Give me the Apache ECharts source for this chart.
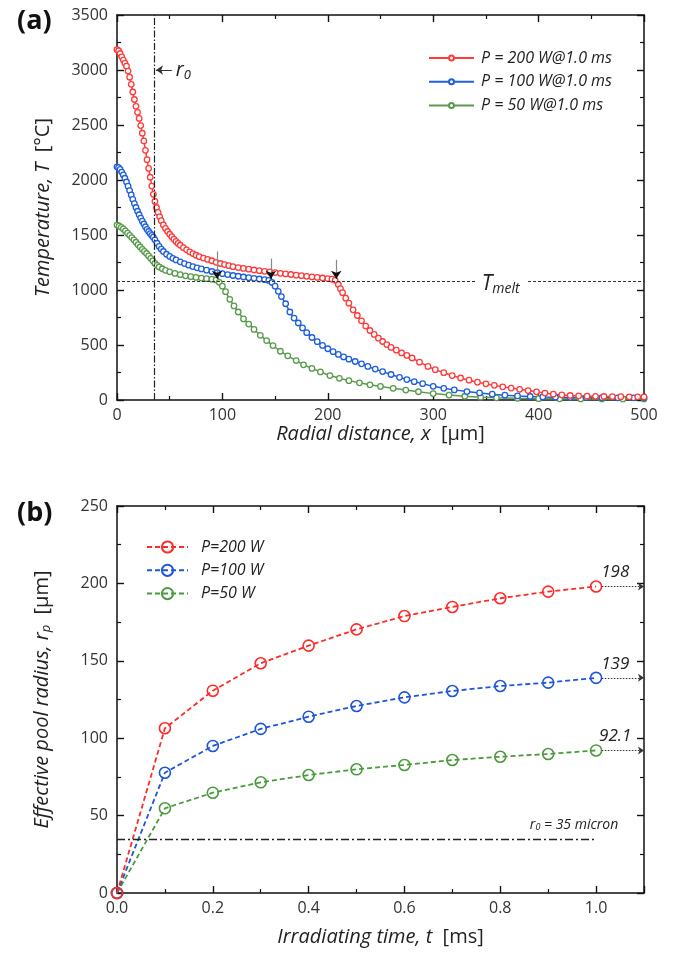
<!DOCTYPE html>
<html><head><meta charset="utf-8">
<script src="https://cdn.jsdelivr.net/npm/echarts@6/dist/echarts.min.js"></script>
<style>html,body{margin:0;padding:0;background:#fff}#c{width:682px;height:956px}</style>
</head><body><div id="c"></div>
<script>
const FONT = '"Open Sans", sans-serif';

// ---------- (a) Temperature vs radial distance ----------
const xTicksA = [0, 100, 200, 300, 400, 500];
const tTicksA = [0, 500, 1000, 1500, 2000, 2500, 3000, 3500];

const redX = [0,1.5,3,4.5,6,7.5,9,10.5,12,13.5,15,16.5,18,19.5,21,22.5,24,25.5,27,28.5,30,31.5,33,34.5,36,37.5,39,40.5,42,44,46,48,50,52,54,56,58,60,63,66,69,72,75,78,82,86,90,94,98,102,106,110,115,120,125,130,135,140,145,150,155,160,165,170,175,180,185,190,195,200,204,207,210,212,214,217,220,224,228,232,236,240,244,248,252,256,260,265,270,275,280,287,295,302,310,318,326,334,342,350,358,366,374,382,390,398,406,414,422,430,438,446,454,462,470,478,486,494,500];
const redT = [3185,3175,3150,3120,3090,3062,3035,2990,2935,2870,2800,2732,2670,2615,2560,2495,2425,2355,2270,2185,2105,2025,1945,1870,1805,1750,1705,1665,1630,1592,1560,1532,1507,1485,1462,1442,1423,1407,1385,1365,1347,1331,1316,1303,1290,1278,1266,1252,1241,1231,1221,1212,1204,1196,1189,1182,1176,1170,1164,1158,1152,1146,1141,1135,1130,1124,1119,1114,1109,1104,1098,1088,1050,1012,976,926,880,820,768,720,672,632,596,562,532,504,478,453,428,405,382,344,305,276,248,222,200,180,162,147,133,120,108,97,86,74,63,53,46,41,38,35,33,32,31,30,29,29,28];

const blueX = [0,1.5,3,4.5,6,7.5,9,10.5,12,13.5,15,16.5,18,19.5,21,22.5,24,25.5,27,28.5,30,31.5,33,34.5,36,38,40,42,44,47,50,53,56,60,64,68,72,76,80,85,90,95,100,105,110,115,120,125,130,135,140,144,147,150,153,156,160,164,168,172,176,180,185,190,195,200,205,210,215,220,226,232,238,245,252,260,268,275,282,290,300,310,320,332,344,356,368,380,392,404,416,430,445,460,475,490,500];
const blueT = [2120,2112,2096,2072,2046,2016,1982,1944,1904,1864,1824,1786,1750,1716,1684,1654,1626,1600,1575,1552,1532,1513,1496,1480,1456,1425,1396,1371,1350,1325,1305,1288,1273,1256,1240,1226,1213,1202,1192,1180,1168,1157,1148,1140,1132,1125,1118,1112,1106,1100,1094,1087,1068,1035,988,940,875,800,745,700,655,612,568,530,496,466,439,414,392,371,350,329,305,281,258,232,206,186,167,148,124,106,92,77,64,53,44,37,32,28,25,23,22,21,20,20,20];

const greenX = [0,2,4,6,8,10,12,14,16,18,20,22,24,26,28,30,32,34,36,38,40,43,46,50,55,60,65,70,75,80,85,90,94,97,100,103,107,111,115,120,125,130,136,142,148,155,162,170,177,185,193,202,211,220,230,240,250,262,274,286,300,315,330,345,360,380,400,420,440,460,480,500];
const greenT = [1590,1582,1570,1555,1537,1517,1497,1477,1456,1434,1412,1391,1370,1351,1332,1310,1288,1265,1242,1224,1209,1193,1179,1165,1151,1139,1129,1121,1114,1108,1103,1098,1092,1070,1035,985,915,855,800,737,690,642,588,540,495,443,402,358,320,287,255,222,197,176,156,138,123,106,90,75,58,45,34,26,20,15,12,11,10,10,10,10];

const r0 = 35;
const tMelt = 1080;
const meltArrowX = [95, 146, 208];
const meltArrowTop = [1350, 1285, 1275];

// ---------- (b) Effective pool radius vs time ----------
const timeMs = [0, 0.1, 0.2, 0.3, 0.4, 0.5, 0.6, 0.7, 0.8, 0.9, 1.0];
const rp200 = [0, 106.4, 130.7, 148.4, 159.8, 170.3, 178.9, 184.8, 190.4, 194.7, 198];
const rp100 = [0, 77.7, 95.0, 106.0, 113.9, 120.8, 126.4, 130.5, 133.7, 135.9, 139];
const rp50  = [0, 54.7, 64.8, 71.5, 76.2, 79.9, 82.7, 85.9, 88.0, 89.8, 92.1];
const finalLabels = ['198', '139', '92.1'];

const namesA = ['P = 200 W@1.0 ms', 'P = 100 W@1.0 ms', 'P = 50 W@1.0 ms'];
const namesB = ['P=200 W', 'P=100 W', 'P=50 W'];

const RED = '#ff3b3b', BLUE = '#1f5fdc', GREEN = '#5a9a4c';
const RED2 = '#ff2a2a', BLUE2 = '#1f55d8', GREEN2 = '#4c9a3e';

const pair = (xs, ys) => xs.map((x, i) => [x, ys[i]]);

const axisLine = { show: true, onZero: false, lineStyle: { color: '#111', width: 1.5 } };
const axisTick = { show: true, inside: true, length: 7, lineStyle: { color: '#111', width: 1.4 } };
const minorTick = { show: true, splitNumber: 2, length: 4, lineStyle: { color: '#111', width: 1.2 } };
const labelStyle = { fontSize: 16, color: '#333', fontFamily: FONT };
const nameRich = {
  i: { fontSize: 20, fontStyle: 'italic', fontFamily: FONT, color: '#222' },
  n: { fontSize: 20, fontFamily: FONT, color: '#222' },
  s: { fontSize: 13, fontStyle: 'italic', fontFamily: FONT, color: '#222', padding: [9, 0, 0, 0] }
};

function mkAxis(gridIndex, position, min, max, interval, opts) {
  return Object.assign({
    type: 'value', gridIndex, position, min, max, interval,
    axisLine, axisTick, minorTick,
    splitLine: { show: false }, minorSplitLine: { show: false },
    axisLabel: { show: false }
  }, opts || {});
}

const chart = echarts.init(document.getElementById('c'));

const topLine = (name, xs, ys, color) => ({
  name, type: 'line', xAxisIndex: 0, yAxisIndex: 0,
  data: pair(xs, ys), symbol: 'circle', symbolSize: 5.5, showSymbol: true,
  lineStyle: { color, width: 1.5 },
  itemStyle: { color: '#fff', borderColor: color, borderWidth: 1.3 },
  emphasis: { disabled: true }, z: 3
});
const botLine = (name, ys, color) => ({
  name, type: 'line', xAxisIndex: 2, yAxisIndex: 2,
  data: pair(timeMs, ys), symbol: 'circle', symbolSize: 11, showSymbol: true,
  lineStyle: { color, width: 1.8, type: [5, 3] },
  itemStyle: { color: 'rgba(0,0,0,0)', borderColor: color, borderWidth: 1.6 },
  emphasis: { disabled: true }, z: 3
});

const sRedA = topLine(namesA[0], redX, redT, RED);
sRedA.markLine = {
  silent: true, symbol: 'none', animation: false,
  label: { show: false },
  data: [
    { xAxis: r0, lineStyle: { type: [7, 2, 1.5, 2], color: '#222', width: 1.2 } },
    [
      { coord: [52, 3000], symbol: 'none', lineStyle: { type: 'solid', color: '#333', width: 1 },
        label: { show: true, position: 'start', distance: 4, formatter: '{r|r}{s|0}',
          rich: { r: { fontSize: 20, fontStyle: 'italic', fontFamily: FONT, color: '#222' },
                  s: { fontSize: 13, fontStyle: 'italic', fontFamily: FONT, color: '#222', padding: [10, 0, 0, 0] } } } },
      { coord: [37, 3000], symbol: 'arrow', symbolSize: 7 }
    ],
    [
      { coord: [0, tMelt], symbol: 'none', lineStyle: { type: [3, 2], color: '#333', width: 1 } },
      { coord: [340, tMelt], symbol: 'none' }
    ],
    [
      { coord: [390, tMelt], symbol: 'none', lineStyle: { type: [3, 2], color: '#333', width: 1 } },
      { coord: [500, tMelt], symbol: 'none' }
    ]
  ].concat(meltArrowX.map((x, i) => [
    { coord: [x, meltArrowTop[i]], symbol: 'none', lineStyle: { type: 'solid', color: '#888', width: 1.2 } },
    { coord: [x, tMelt + 60], symbol: 'none' }
  ])).concat(meltArrowX.map(x => [
    { coord: [x, tMelt + 70], symbol: 'none', lineStyle: { type: 'solid', color: '#111', width: 1.2 } },
    { coord: [x, tMelt + 22], symbol: 'arrow', symbolSize: 8 }
  ]))
};
sRedA.markPoint = {
  silent: true, animation: false,
  data: [{
    coord: [364, tMelt], symbol: 'circle', symbolSize: 1, itemStyle: { color: 'rgba(0,0,0,0)' },
    label: { show: true, position: 'inside', offset: [0, 3], formatter: '{t|T}{s|melt}',
      rich: { t: { fontSize: 21, fontStyle: 'italic', fontFamily: FONT, color: '#222' },
              s: { fontSize: 14, fontStyle: 'italic', fontFamily: FONT, color: '#222', padding: [10, 0, 0, 0] } } }
  }]
};

const sRedB = botLine(namesB[0], rp200, RED2);
const finals = [rp200[10], rp100[10], rp50[10]];
sRedB.markLine = {
  silent: true, animation: false, symbol: 'none', label: { show: false },
  data: [
    [
      { coord: [0, r0], symbol: 'none', lineStyle: { type: [8, 3, 2, 3], color: '#222', width: 1.3 } },
      { coord: [1.0, r0], symbol: 'none' }
    ]
  ].concat(finals.map(v => [
    { coord: [1.012, v], symbol: 'none', lineStyle: { type: [1.5, 1.5], color: '#333', width: 1 } },
    { coord: [1.1, v], symbol: 'arrow', symbolSize: 6 }
  ]))
};
sRedB.markPoint = {
  silent: true, animation: false,
  data: finals.map((v, i) => ({
    coord: [1.04, v], symbol: 'circle', symbolSize: 1, itemStyle: { color: 'rgba(0,0,0,0)' },
    label: { show: true, position: 'inside', offset: [0, -14], formatter: finalLabels[i],
      fontSize: 17, fontStyle: 'italic', fontFamily: FONT, color: '#222' }
  })).concat([{
    coord: [0.954, r0], symbol: 'circle', symbolSize: 1, itemStyle: { color: 'rgba(0,0,0,0)' },
    label: { show: true, position: 'inside', offset: [0, -14], formatter: '{a|r}{b|0}{a| = 35 micron}',
      rich: { a: { fontSize: 14, fontStyle: 'italic', fontFamily: FONT, color: '#222' },
              b: { fontSize: 9, fontStyle: 'italic', fontFamily: FONT, color: '#222', padding: [6, 0, 0, 0] } } }
  }])
};

chart.setOption({
  animation: false,
  backgroundColor: '#fff',
  title: [
    { text: '(a)', left: 12, top: 3, textStyle: { fontSize: 27, fontWeight: 'bold', fontFamily: FONT, color: '#111' } },
    { text: '(b)', left: 12, top: 495, textStyle: { fontSize: 27, fontWeight: 'bold', fontFamily: FONT, color: '#111' } }
  ],
  grid: [
    { left: 117, top: 15, width: 527, height: 385 },
    { left: 117, top: 506, width: 527, height: 387 }
  ],
  legend: [
    { data: namesA, orient: 'vertical', left: 423, top: 45, itemWidth: 45, itemHeight: 6.25, itemGap: 7.7,
      selectedMode: false, textStyle: { fontSize: 16, lineHeight: 16, fontStyle: 'italic', fontFamily: FONT, color: '#222', padding: [0, 0, 0, 2] } },
    { data: namesB, orient: 'vertical', left: 141, top: 534, itemWidth: 41, itemHeight: 14, itemGap: 7.3,
      selectedMode: false, textStyle: { fontSize: 16, lineHeight: 16, fontStyle: 'italic', fontFamily: FONT, color: '#222', padding: [0, 0, 0, 8] } }
  ],
  xAxis: [
    mkAxis(0, 'bottom', xTicksA[0], xTicksA[xTicksA.length - 1], 100, {
      axisLabel: Object.assign({ show: true, margin: 7, formatter: v => String(v) }, labelStyle),
      name: '{i|Radial distance, x}{n|  [μm]}', nameLocation: 'middle', nameGap: 22,
      nameTextStyle: { rich: nameRich }
    }),
    mkAxis(0, 'top', 0, 500, 100),
    mkAxis(1, 'bottom', 0, 1.1, 0.2, {
      axisLabel: Object.assign({ show: true, margin: 7, formatter: v => (v > 1.05 ? '' : v.toFixed(1)) }, labelStyle),
      name: '{i|Irradiating time, t}{n|  [ms]}', nameLocation: 'middle', nameGap: 34,
      nameTextStyle: { rich: nameRich }
    }),
    mkAxis(1, 'top', 0, 1.1, 0.2)
  ],
  yAxis: [
    mkAxis(0, 'left', tTicksA[0], tTicksA[tTicksA.length - 1], 500, {
      axisLabel: Object.assign({ show: true, margin: 9, formatter: v => String(v) }, labelStyle),
      name: '{i|Temperature, T}{n|  [°C]}', nameLocation: 'middle', nameRotate: 90, nameGap: 64,
      nameTextStyle: { rich: nameRich }
    }),
    mkAxis(0, 'right', 0, 3500, 500),
    mkAxis(1, 'left', 0, 250, 50, {
      axisLabel: Object.assign({ show: true, margin: 9, formatter: v => String(v) }, labelStyle),
      name: '{i|Effective pool radius, r}{s|p}{n|  [μm]}', nameLocation: 'middle', nameRotate: 90, nameGap: 64,
      nameTextStyle: { rich: nameRich }
    }),
    mkAxis(1, 'right', 0, 250, 50)
  ],
  series: [
    topLine(namesA[2], greenX, greenT, GREEN),
    topLine(namesA[1], blueX, blueT, BLUE),
    sRedA,
    botLine(namesB[2], rp50, GREEN2),
    botLine(namesB[1], rp100, BLUE2),
    sRedB
  ]
});
</script>
</body></html>
